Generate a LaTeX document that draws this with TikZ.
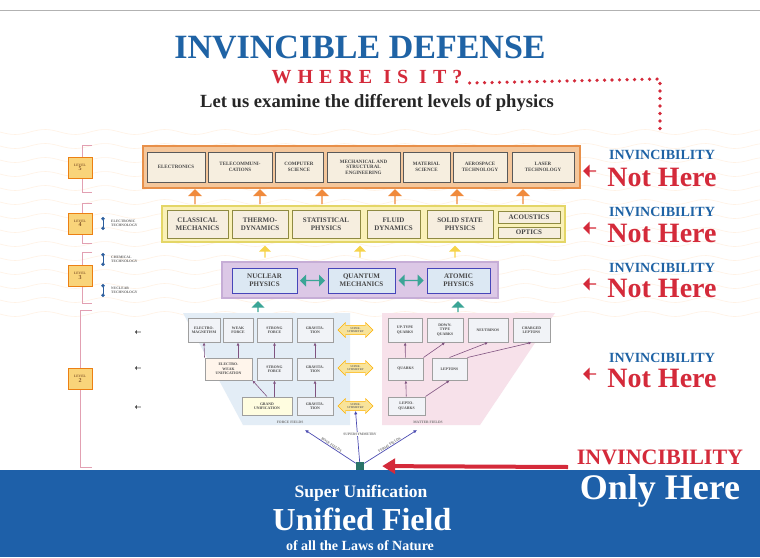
\documentclass[tikz,border=0pt]{standalone}
\usepackage{fontspec}
\usepackage{xcolor}
\usetikzlibrary{shapes.arrows,arrows.meta,positioning,calc}
\setmainfont{Liberation Serif}
\newfontfamily\spacedFont[LetterSpace=30]{Liberation Serif}
\definecolor{titleBlue}{HTML}{1F63A5}
\definecolor{alertRed}{HTML}{D42A3A}
\definecolor{levelFiveFill}{HTML}{F4C79C}
\definecolor{levelFiveDraw}{HTML}{E8904A}
\definecolor{levelFourFill}{HTML}{FAF1B8}
\definecolor{levelFourDraw}{HTML}{E4D667}
\definecolor{levelThreeFill}{HTML}{DCC8E6}
\definecolor{levelThreeDraw}{HTML}{C6ADD6}
\definecolor{paperFill}{HTML}{F6EEDF}
\definecolor{physBlue}{HTML}{DCE8F3}
\definecolor{fieldBlue}{HTML}{E3EDF6}
\definecolor{fieldPink}{HTML}{F7E1EA}
\definecolor{fieldBox}{HTML}{F1F3F7}
\definecolor{bandBlue}{HTML}{1E60A9}
\definecolor{tealArrow}{HTML}{3BA596}
\definecolor{orangeArrow}{HTML}{F08A3C}
\definecolor{yellowArrow}{HTML}{F6D34A}
\definecolor{symFill}{HTML}{F8E39A}
\definecolor{bracketPink}{HTML}{E2A0B2}
\definecolor{levelTag}{HTML}{F9D47A}
\definecolor{techBlue}{HTML}{2C5E9E}
\newcommand{\levelTag}[1]{LEVEL\\{\fontsize{6}{6}\selectfont #1}}
\newcommand{\techText}[2]{#1\\#2}

\tikzset{
  fiveframe/.style={draw=levelFiveDraw, line width=2.5pt, fill=levelFiveFill, inner sep=0pt},
  fourframe/.style={draw=levelFourDraw, line width=1.8pt, fill=levelFourFill, inner sep=0pt},
  threeframe/.style={draw=levelThreeDraw, line width=1.5pt, fill=levelThreeFill, inner sep=0pt},
  physbox/.style={draw=gray!70!black, line width=0.8pt, fill=paperFill, inner sep=0pt,
    align=center, text=black!72},
  fivebox/.style={physbox, minimum height=30pt, font=\fontsize{5}{5.6}\selectfont\bfseries},
  fourbox/.style={physbox, draw=olive!55!gray, minimum height=28pt, font=\fontsize{7}{7.8}\selectfont\bfseries},
  threebox/.style={physbox, draw=gray!55!blue, fill=physBlue, minimum height=25pt, font=\fontsize{7}{7.8}\selectfont\bfseries},
  fieldbox/.style={physbox, draw=gray!75, line width=1pt, fill=fieldBox, font=\fontsize{3.8}{4.3}\selectfont\bfseries},
  upfive/.style={single arrow, fill=orangeArrow, shape border rotate=90, minimum height=15pt,
    minimum width=14pt, single arrow head extend=2pt, inner sep=0pt},
  upfour/.style={upfive, fill=yellowArrow, minimum height=12pt, minimum width=12pt},
  upthree/.style={upfive, fill=tealArrow, minimum height=11pt, minimum width=13pt},
  twoway/.style={double arrow, fill=tealArrow, minimum height=25pt, minimum width=12pt,
    double arrow head extend=2pt, inner sep=0pt},
  symarrow/.style={double arrow, draw=orange!60!yellow, fill=symFill, minimum height=35pt,
    minimum width=15pt, double arrow head extend=2pt, inner sep=0.5pt, align=center,
    font=\fontsize{2.8}{3.2}\selectfont\bfseries, text=black!60},
  fieldlink/.style={draw=violet!35!gray, line width=0.6pt, -{Latex[length=3pt,width=3pt]}},
  rootlink/.style={draw=gray!60!blue, line width=0.7pt, -{Latex[length=3.5pt,width=3.5pt]}},
  fieldlabel/.style={font=\fontsize{3.6}{4}\selectfont\bfseries, text=black!55, inner sep=0.5pt},
  redpoint/.style={single arrow, fill=alertRed, shape border rotate=180, minimum height=13pt,
    minimum width=13pt, single arrow head extend=2pt, inner sep=0pt},
  invsmall/.style={font=\fontsize{14}{14}\selectfont\bfseries, text=titleBlue, inner sep=0pt},
  nothere/.style={font=\fontsize{28}{28}\selectfont\bfseries, text=alertRed, inner sep=0pt},
  levelbox/.style={draw=orange!70!brown, fill=levelTag, line width=0.6pt, minimum width=24pt,
    minimum height=21pt, inner sep=0pt, align=center, font=\fontsize{3.5}{4.5}\selectfont\bfseries,
    text=brown!70!black},
  bracket/.style={draw=bracketPink, line width=1pt},
  techlabel/.style={font=\fontsize{3.6}{4.2}\selectfont\bfseries, text=black!60, align=left,
    anchor=west, inner sep=0pt},
  techmark/.style={draw=techBlue, line width=0.6pt, {Circle[length=3.5pt]}-{Circle[length=3.5pt]}},
  smallmark/.style={single arrow, fill=black!70, shape border rotate=180, minimum height=6pt,
    minimum width=4pt, single arrow head extend=1pt, inner sep=0pt},
  dotline/.style={draw=alertRed, line width=3.6pt, line cap=round, dash pattern=on 0pt off 7.5pt}
}

\begin{document}
\begin{tikzpicture}[x=1pt,y=-1pt]
\useasboundingbox (0,0) rectangle (760,557);
\fill[white] (0,0) rectangle (760,557);
\draw[gray!60, line width=1pt] (0,10) -- (760,10);
\foreach \k in {0,...,13}
  \draw[orange!10, line width=0.6pt] plot[domain=0:760, samples=200] (\x,{132+14*\k+2.5*sin(6*\x)});

\node[font=\fontsize{34}{34}\selectfont\bfseries, text=titleBlue] (title) at (360,47) {INVINCIBLE DEFENSE};
\node[font=\fontsize{20}{20}\selectfont\bfseries\spacedFont, text=alertRed, inner sep=0pt] (where) at (367,77) {WHERE IS IT?};
\node[font=\fontsize{18.6}{18.6}\selectfont\bfseries, text=black!85] (intro) at (377,103) {Let us examine the different levels of physics};
\coordinate (dotCorner) at (660,79);
\coordinate (dotEnd) at (660,136);
\draw[dotline] ([xshift=7pt,yshift=-6pt]where.east) -- (dotCorner) -- (dotEnd);

\node[fiveframe, minimum width=437pt, minimum height=42pt] (levelFive) at (361.5,167) {};
\node[fivebox, minimum width=58pt] (electronics) at (176,167) {ELECTRONICS};
\node[fivebox, minimum width=64pt] (telecom) at (240,167) {TELECOMMUNI-\\CATIONS};
\node[fivebox, minimum width=48pt] (computer) at (299,167) {COMPUTER\\SCIENCE};
\node[fivebox, minimum width=73pt] (mechanical) at (363.5,167) {MECHANICAL AND\\STRUCTURAL\\ENGINEERING};
\node[fivebox, minimum width=47pt] (material) at (426.5,167) {MATERIAL\\SCIENCE};
\node[fivebox, minimum width=54pt] (aerospace) at (480,167) {AEROSPACE\\TECHNOLOGY};
\node[fivebox, minimum width=62pt] (laser) at (543,167) {LASER\\TECHNOLOGY};

\foreach \px in {195,260,322,395,457,523}
  \node[upfive] (upFive-\px) at (\px,197) {};

\node[fourframe, minimum width=403pt, minimum height=36pt] (levelFour) at (363.5,224) {};
\node[fourbox, minimum width=61pt] (classical) at (197.5,224) {CLASSICAL\\MECHANICS};
\node[fourbox, minimum width=56pt] (thermo) at (260,224) {THERMO-\\DYNAMICS};
\node[fourbox, minimum width=68pt] (statistical) at (326,224) {STATISTICAL\\PHYSICS};
\node[fourbox, minimum width=53pt] (fluid) at (393.5,224) {FLUID\\DYNAMICS};
\node[fourbox, minimum width=66pt] (solid) at (460,224) {SOLID STATE\\PHYSICS};
\node[fourbox, minimum width=62pt, minimum height=12pt] (acoustics) at (529,217) {ACOUSTICS};
\node[fourbox, minimum width=62pt, minimum height=11pt] (optics) at (529,232.5) {OPTICS};

\foreach \px in {265,360,455}
  \node[upfour] (upFour-\px) at (\px,252) {};

\node[threeframe, minimum width=276pt, minimum height=36pt] (levelThree) at (360,280) {};
\node[threebox, minimum width=65pt] (nuclear) at (264.5,280.5) {NUCLEAR\\PHYSICS};
\node[threebox, minimum width=67pt] (quantum) at (361.5,280.5) {QUANTUM\\MECHANICS};
\node[threebox, minimum width=63pt] (atomic) at (458.5,280.5) {ATOMIC\\PHYSICS};
\node[twoway] (nucQua) at ($(nuclear.east)!0.5!(quantum.west)$) {};
\node[twoway] (quaAto) at ($(quantum.east)!0.5!(atomic.west)$) {};

\fill[fieldBlue] (183,313) -- (350,313) -- (350,425) -- (243,425) -- cycle;
\fill[fieldPink] (382,313) -- (555,313) -- (480,425) -- (382,425) -- cycle;
\node[upthree] (upForce) at (258,307) {};
\node[upthree] (upMatter) at (458,307) {};

\node[fieldbox, minimum width=32pt, minimum height=24pt] (emag) at (204,330) {ELECTRO-\\MAGNETISM};
\node[fieldbox, minimum width=30pt, minimum height=24pt] (weak) at (238,330) {WEAK\\FORCE};
\node[fieldbox, minimum width=35pt, minimum height=24pt] (strongOne) at (274.5,330) {STRONG\\FORCE};
\node[fieldbox, minimum width=36pt, minimum height=24pt] (gravOne) at (315,330) {GRAVITA-\\TION};
\node[fieldbox, minimum width=47pt, minimum height=22pt, fill=orange!8] (ewk) at (228.5,369) {ELECTRO-\\WEAK\\UNIFICATION};
\node[fieldbox, minimum width=35pt, minimum height=22pt] (strongTwo) at (274.5,369) {STRONG\\FORCE};
\node[fieldbox, minimum width=36pt, minimum height=22pt] (gravTwo) at (315,369) {GRAVITA-\\TION};
\node[fieldbox, minimum width=50pt, minimum height=18pt, fill=yellow!12] (grand) at (267,406) {GRAND\\UNIFICATION};
\node[fieldbox, minimum width=36pt, minimum height=18pt] (gravThree) at (315,406) {GRAVITA-\\TION};
\node[fieldlabel] (forceLabel) at (290,422) {FORCE FIELDS};

\node[fieldbox, minimum width=34pt, minimum height=24pt] (upType) at (405,330) {UP-TYPE\\QUARKS};
\node[fieldbox, minimum width=36pt, minimum height=24pt] (downType) at (445,330) {DOWN-\\TYPE\\QUARKS};
\node[fieldbox, minimum width=40pt, minimum height=24pt] (neutrinos) at (488,330) {NEUTRINOS};
\node[fieldbox, minimum width=37pt, minimum height=24pt] (charged) at (531.5,330) {CHARGED\\LEPTONS};
\node[fieldbox, minimum width=35pt, minimum height=22pt] (quarks) at (405.5,369) {QUARKS};
\node[fieldbox, minimum width=35pt, minimum height=22pt] (leptons) at (449.5,369) {LEPTONS};
\node[fieldbox, minimum width=37pt, minimum height=18pt] (leptoquarks) at (406.5,406) {LEPTO-\\QUARKS};
\node[fieldlabel] (matterLabel) at (428,422) {MATTER FIELDS};

\node[symarrow] (symOne) at (355.5,330) {SUPER-\\SYMMETRY};
\node[symarrow] (symTwo) at (355.5,368) {SUPER-\\SYMMETRY};
\node[symarrow] (symThree) at (355.5,406) {SUPER-\\SYMMETRY};

\draw[fieldlink] (ewk.north west) -- (emag.south);
\draw[fieldlink] (ewk.north -| weak.south) -- (weak.south);
\draw[fieldlink] (strongTwo) -- (strongOne);
\draw[fieldlink] (gravTwo) -- (gravOne);
\draw[fieldlink] (grand.north) -- (ewk.south east);
\draw[fieldlink] (grand.north -| strongTwo.south) -- (strongTwo.south);
\draw[fieldlink] (gravThree) -- (gravTwo);
\draw[fieldlink] (quarks) -- (upType);
\draw[fieldlink] (quarks.north east) -- (downType.south);
\draw[fieldlink] (leptons.north) -- (neutrinos.south);
\draw[fieldlink] (leptons.north east) -- (charged.south);
\draw[fieldlink] (leptoquarks) -- (quarks);
\draw[fieldlink] (leptoquarks.north east) -- (leptons.south);

\fill[bandBlue] (0,470) rectangle (760,557);
\node[fill=tealArrow!70!black, minimum size=8pt, inner sep=0pt] (root) at (360,466) {};
\coordinate (boseEnd) at (305,430);
\coordinate (fermiEnd) at (417,430);
\draw[rootlink] (root) -- node[sloped, above, fieldlabel] {BOSE FIELDS} (boseEnd);
\draw[rootlink] (root) -- node[sloped, above, fieldlabel] {FERMI FIELDS} (fermiEnd);
\draw[rootlink] (root) -- (symThree.south);
\node[fieldlabel, fill=white] (superSym) at (360,434) {SUPERSYMMETRY};

\node[font=\fontsize{22}{22}\selectfont\bfseries, text=alertRed, inner sep=0pt] (invBottom) at (660,457) {INVINCIBILITY};
\node[font=\fontsize{36}{36}\selectfont\bfseries, text=white, inner sep=0pt] (onlyHere) at (660,491) {Only Here};
\coordinate (redStart) at (568,467);
\draw[alertRed, line width=4pt, -{Triangle[length=13pt,width=15pt]}, shorten >=18pt] (redStart) -- (root.east);

\node[font=\fontsize{17.5}{17.5}\selectfont\bfseries, text=white] (superUni) at (361,493) {Super Unification};
\node[font=\fontsize{32}{32}\selectfont\bfseries, text=white] (unified) at (362,519) {Unified Field};
\node[font=\fontsize{14}{14}\selectfont\bfseries, text=white] (laws) at (360,546) {of all the Laws of Nature};

\node[invsmall] (invFive) at (662,155) {INVINCIBILITY};
\node[nothere] (notFive) at (662,177) {Not Here};
\node[redpoint] (ptFive) at (590,171) {};
\node[invsmall] (invFour) at (662,212) {INVINCIBILITY};
\node[nothere] (notFour) at (662,233) {Not Here};
\node[redpoint] (ptFour) at (590,228) {};
\node[invsmall] (invThree) at (662,268) {INVINCIBILITY};
\node[nothere] (notThree) at (662,288) {Not Here};
\node[redpoint] (ptThree) at (590,284) {};
\node[invsmall] (invTwo) at (662,358) {INVINCIBILITY};
\node[nothere] (notTwo) at (662,378) {Not Here};
\node[redpoint] (ptTwo) at (590,374) {};

\draw[bracket] (92,145) -- (82,145) -- (82,192) -- (92,192);
\draw[bracket] (92,203) -- (82,203) -- (82,243) -- (92,243);
\draw[bracket] (92,252) -- (82,252) -- (82,303) -- (92,303);
\draw[bracket] (92,310) -- (80,310) -- (80,467) -- (92,467);
\node[levelbox] (levelTagFive) at (80,167.5) {\levelTag{5}};
\node[levelbox] (levelTagFour) at (80,223.5) {\levelTag{4}};
\node[levelbox] (levelTagThree) at (80,276) {\levelTag{3}};
\node[levelbox] (levelTagTwo) at (80,379) {\levelTag{2}};

\node[techlabel] (elecTech) at (111,223.5) {\techText{ELECTRONIC}{TECHNOLOGY}};
\node[techlabel] (chemTech) at (111,259.5) {\techText{CHEMICAL}{TECHNOLOGY}};
\node[techlabel] (nucTech) at (111,290.5) {\techText{NUCLEAR}{TECHNOLOGY}};
\draw[techmark] ([xshift=-8pt,yshift=3pt]elecTech.north west) -- ([xshift=-8pt,yshift=-3pt]elecTech.south west);
\draw[techmark] ([xshift=-8pt,yshift=3pt]chemTech.north west) -- ([xshift=-8pt,yshift=-3pt]chemTech.south west);
\draw[techmark] ([xshift=-8pt,yshift=3pt]nucTech.north west) -- ([xshift=-8pt,yshift=-3pt]nucTech.south west);
\node[smallmark] (markOne) at (138,332) {};
\node[smallmark] (markTwo) at (138,368) {};
\node[smallmark] (markThree) at (138,407) {};
\end{tikzpicture}
\end{document}
